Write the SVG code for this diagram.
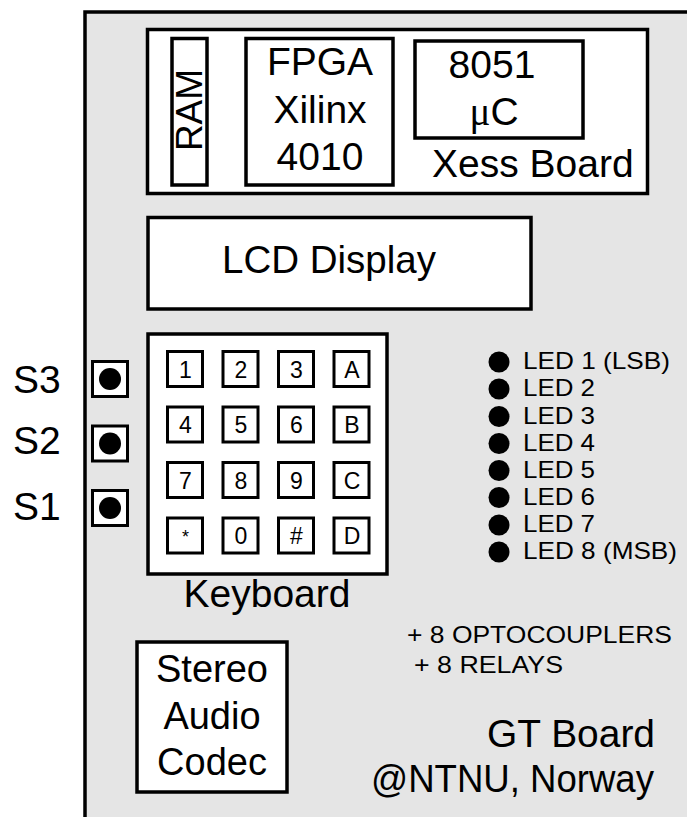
<svg xmlns="http://www.w3.org/2000/svg" width="687" height="817" viewBox="0 0 687 817">
<style>
text{font-family:"Liberation Sans",Arial,sans-serif;fill:#000}
.box{fill:#fff;stroke:#000;stroke-width:3.5}
.key{fill:#fff;stroke:#000;stroke-width:3}
.big{font-size:39px}
.mid{font-size:24px}
.k{font-size:23px;text-anchor:middle}
.c{text-anchor:middle}
.dot{fill:#000}
</style>
<rect x="0" y="0" width="687" height="817" fill="#fff"/>
<g id="gt-board">
<rect x="85" y="12" width="602" height="805" fill="#e5e5e5"/>
<path d="M85,817 V12 H687" fill="none" stroke="#000" stroke-width="3.5"/>
<text class="big" x="655" y="747" text-anchor="end" style="font-size:38px" textLength="168" lengthAdjust="spacingAndGlyphs">GT Board</text>
<text class="big" x="654" y="792" text-anchor="end" style="font-size:38px" textLength="283" lengthAdjust="spacingAndGlyphs">@NTNU, Norway</text>
</g>
<g id="xess-board">
<rect class="box" x="147.5" y="29.5" width="500" height="164"/>
<text class="big" x="432" y="177">Xess Board</text>
</g>
<g id="ram">
<rect class="box" x="172" y="38.5" width="35" height="146.5"/>
<text class="big c" transform="translate(202,110) rotate(-90)" style="font-size:37px">RAM</text>
</g>
<g id="fpga">
<rect class="box" x="246" y="38.5" width="147" height="146.5"/>
<text class="big c" x="320" y="75">FPGA</text>
<text class="big c" x="320" y="123">Xilinx</text>
<text class="big c" x="320" y="170">4010</text>
</g>
<g id="uc8051">
<rect class="box" x="415" y="41" width="168" height="97"/>
<text class="big c" x="492" y="78">8051</text>
<text class="big c" x="494" y="125"><tspan font-family="Liberation Serif,serif">μ</tspan>C</text>
</g>
<g id="lcd">
<rect class="box" x="148" y="217.5" width="383" height="91.5"/>
<text class="big c" x="329" y="273" style="font-size:38.5px">LCD Display</text>
</g>
<g id="keyboard">
<rect class="box" x="148" y="334" width="239" height="240"/>
<rect class="key" x="167.5" y="351.5" width="35" height="35"/><text class="k" x="185.5" y="377.5">1</text>
<rect class="key" x="223" y="351.5" width="35" height="35"/><text class="k" x="241" y="377.5">2</text>
<rect class="key" x="278.5" y="351.5" width="35" height="35"/><text class="k" x="296.5" y="377.5">3</text>
<rect class="key" x="334" y="351.5" width="35" height="35"/><text class="k" x="352" y="377.5">A</text>
<rect class="key" x="167.5" y="407" width="35" height="35"/><text class="k" x="185.5" y="433">4</text>
<rect class="key" x="223" y="407" width="35" height="35"/><text class="k" x="241" y="433">5</text>
<rect class="key" x="278.5" y="407" width="35" height="35"/><text class="k" x="296.5" y="433">6</text>
<rect class="key" x="334" y="407" width="35" height="35"/><text class="k" x="352" y="433">B</text>
<rect class="key" x="167.5" y="462.5" width="35" height="35"/><text class="k" x="185.5" y="488.5">7</text>
<rect class="key" x="223" y="462.5" width="35" height="35"/><text class="k" x="241" y="488.5">8</text>
<rect class="key" x="278.5" y="462.5" width="35" height="35"/><text class="k" x="296.5" y="488.5">9</text>
<rect class="key" x="334" y="462.5" width="35" height="35"/><text class="k" x="352" y="488.5">C</text>
<rect class="key" x="167.5" y="518" width="35" height="35"/><text class="k" x="185.5" y="543" style="font-size:18px">*</text>
<rect class="key" x="223" y="518" width="35" height="35"/><text class="k" x="241" y="544">0</text>
<rect class="key" x="278.5" y="518" width="35" height="35"/><text class="k" x="296.5" y="544">#</text>
<rect class="key" x="334" y="518" width="35" height="35"/><text class="k" x="352" y="544">D</text>
<text class="big c" x="267" y="607">Keyboard</text>
</g>
<g id="s3">
<rect class="key" x="92.5" y="361.5" width="35" height="35"/>
<circle class="dot" cx="110" cy="379" r="11"/>
<text class="big" x="13" y="393">S3</text>
</g>
<g id="s2">
<rect class="key" x="92.5" y="426" width="35" height="35"/>
<circle class="dot" cx="110" cy="443.5" r="11"/>
<text class="big" x="13" y="454">S2</text>
</g>
<g id="s1">
<rect class="key" x="92.5" y="490.5" width="35" height="35"/>
<circle class="dot" cx="110" cy="508" r="11"/>
<text class="big" x="13" y="520">S1</text>
</g>
<g id="leds">
<circle class="dot" cx="499" cy="362" r="10.5"/><text class="mid" x="523" y="369" textLength="147" lengthAdjust="spacingAndGlyphs">LED 1 (LSB)</text>
<circle class="dot" cx="499" cy="389" r="10.5"/><text class="mid" x="523" y="396" textLength="72" lengthAdjust="spacingAndGlyphs">LED 2</text>
<circle class="dot" cx="499" cy="416.5" r="10.5"/><text class="mid" x="523" y="423.5" textLength="72" lengthAdjust="spacingAndGlyphs">LED 3</text>
<circle class="dot" cx="499" cy="443.5" r="10.5"/><text class="mid" x="523" y="450.5" textLength="72" lengthAdjust="spacingAndGlyphs">LED 4</text>
<circle class="dot" cx="499" cy="470.5" r="10.5"/><text class="mid" x="523" y="477.5" textLength="72" lengthAdjust="spacingAndGlyphs">LED 5</text>
<circle class="dot" cx="499" cy="497.5" r="10.5"/><text class="mid" x="523" y="504.5" textLength="72" lengthAdjust="spacingAndGlyphs">LED 6</text>
<circle class="dot" cx="499" cy="525" r="10.5"/><text class="mid" x="523" y="532" textLength="72" lengthAdjust="spacingAndGlyphs">LED 7</text>
<circle class="dot" cx="499" cy="552" r="10.5"/><text class="mid" x="523" y="559" textLength="154" lengthAdjust="spacingAndGlyphs">LED 8 (MSB)</text>
</g>
<g id="extras">
<text class="mid" x="407" y="643" textLength="265" lengthAdjust="spacingAndGlyphs">+ 8 OPTOCOUPLERS</text>
<text class="mid" x="414" y="673" textLength="149" lengthAdjust="spacingAndGlyphs">+ 8 RELAYS</text>
</g>
<g id="codec">
<rect class="box" x="137" y="642" width="150" height="150"/>
<text class="big c" x="212" y="682" style="font-size:38px">Stereo</text>
<text class="big c" x="212" y="729" style="font-size:38px">Audio</text>
<text class="big c" x="212" y="775" style="font-size:38px">Codec</text>
</g>
<g id="connectors"></g>
</svg>
